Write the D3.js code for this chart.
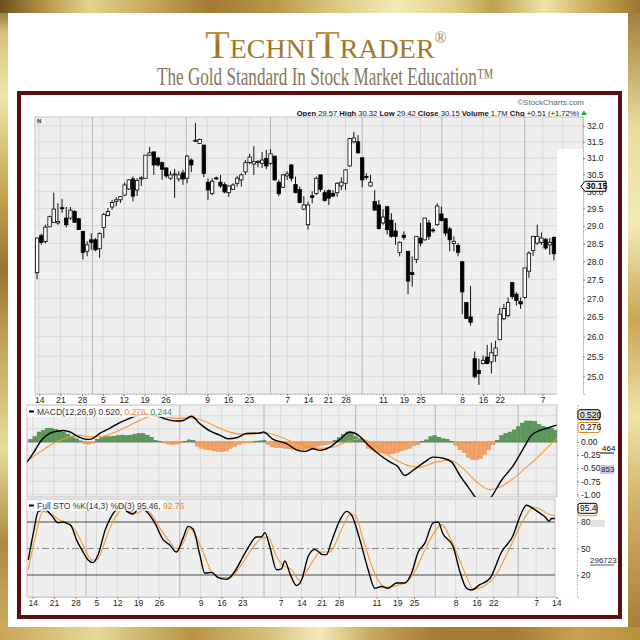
<!DOCTYPE html>
<html>
<head>
<meta charset="utf-8">
<title>TechniTrader chart</title>
<script src="https://cdnjs.cloudflare.com/ajax/libs/d3/7.8.5/d3.min.js"></script>
<style>
  body { margin: 0; background: #fff; }
  svg { display: block; }
</style>
</head>
<body>
<div id="chart"></div>
<script>
// week labels on the date axis (position = bar index) and month boundaries
var tickIdx = [0.5, 5.6, 10.8, 15.8, 20.8, 25.8, 30.8, 40.8, 45.8, 50.8, 60, 65, 69.8, 74, 83, 88, 92, 102, 107, 111, 121.3, 126.1];
var tickLabels = ['14', '21', '28', '5', '12', '19', '26', '9', '16', '23', '7', '14', '21', '28', '11', '19', '25', '8', '16', '22', '7', '14'];
var monthIdx = [13.3, 35.8, 56, 78, 97.1, 117];

// daily candles
var priceOpen = [27.69, 28.72, 28.55, 28.97, 29.09, 29.08, 29.52, 29.22, 29.22, 29.41,
  29.20, 28.84, 28.28, 28.60, 28.60, 28.35, 28.95, 29.29, 29.54, 29.70,
  29.75, 29.89, 30.07, 30.37, 30.04, 30.38, 30.39, 31.09, 31.19, 31.00,
  30.86, 30.70, 30.39, 30.52, 30.37, 30.55, 30.39, 30.94, 31.55, 31.45,
  31.40, 30.27, 29.94, 30.40, 30.27, 30.20, 29.96, 30.06, 30.24, 30.34,
  30.58, 30.86, 30.82, 30.88, 30.84, 30.99, 30.84, 31.06, 30.27, 30.12,
  30.46, 30.79, 30.20, 30.06, 29.48, 29.03, 29.87, 29.94, 30.49, 29.96,
  30.02, 29.94, 29.96, 30.16, 30.24, 30.76, 31.50, 31.50, 31.01, 30.44,
  30.16, 29.70, 29.60, 29.08, 29.55, 29.16, 28.85, 28.25, 28.73, 28.28,
  27.69, 28.05, 28.65, 28.60, 29.08, 28.88, 29.03, 29.34, 29.20, 28.91,
  28.50, 28.44, 27.99, 26.89, 26.51, 25.44, 25.15, 25.32, 25.48, 25.36,
  25.52, 25.92, 26.46, 26.54, 27.42, 27.11, 26.92, 27.02, 27.73, 28.30,
  28.51, 28.53, 28.62, 28.46, 28.67];
var priceHigh = [28.67, 28.78, 29.03, 29.29, 29.96, 29.65, 29.78, 29.54, 29.54, 29.45,
  29.23, 28.84, 28.56, 28.78, 28.65, 28.81, 29.37, 29.51, 29.75, 29.83,
  29.86, 30.26, 30.36, 30.44, 30.39, 30.45, 31.09, 31.34, 31.19, 31.04,
  30.89, 30.72, 30.60, 30.67, 30.60, 30.64, 31.09, 30.99, 32.09, 31.60,
  31.40, 30.39, 30.39, 30.44, 30.49, 30.27, 30.19, 30.24, 30.46, 30.54,
  30.94, 31.13, 31.36, 30.94, 31.19, 31.25, 31.28, 31.06, 30.34, 30.52,
  30.60, 30.82, 30.44, 30.14, 29.86, 29.70, 30.00, 30.44, 30.49, 30.04,
  30.06, 30.04, 30.27, 30.42, 30.66, 31.62, 31.81, 31.71, 31.01, 30.54,
  30.49, 30.04, 29.75, 29.48, 29.55, 29.36, 29.08, 28.56, 28.84, 28.28,
  28.14, 28.70, 29.08, 29.22, 29.17, 28.94, 29.65, 29.55, 29.22, 28.97,
  28.70, 28.51, 27.99, 26.89, 27.33, 25.62, 25.44, 25.52, 25.79, 25.84,
  25.90, 26.75, 26.85, 27.02, 27.42, 27.16, 27.02, 27.82, 28.28, 28.70,
  29.03, 28.81, 28.65, 28.65, 28.70];
var priceLow = [27.51, 28.46, 28.50, 28.96, 29.08, 29.03, 29.37, 28.95, 29.17, 29.08,
  28.89, 28.05, 28.14, 28.32, 28.28, 28.10, 28.65, 29.27, 29.46, 29.56,
  29.66, 29.86, 30.04, 29.70, 29.86, 30.16, 30.39, 31.06, 30.49, 30.74,
  30.34, 30.39, 30.34, 29.81, 30.29, 30.19, 30.24, 30.58, 31.50, 31.44,
  30.42, 29.75, 29.89, 30.34, 30.10, 29.94, 29.84, 30.04, 30.14, 30.14,
  30.49, 30.82, 30.49, 30.72, 30.70, 30.66, 30.79, 30.32, 29.86, 30.10,
  30.34, 30.29, 29.94, 29.65, 29.45, 28.89, 29.65, 29.89, 29.99, 29.70,
  29.60, 29.83, 29.84, 30.04, 30.04, 30.74, 31.45, 31.14, 30.12, 30.34,
  30.14, 29.45, 28.89, 29.03, 28.75, 28.66, 28.46, 28.14, 28.60, 27.11,
  27.31, 27.95, 28.42, 28.58, 28.60, 28.80, 29.00, 29.12, 28.70, 28.28,
  28.28, 28.14, 26.58, 26.46, 26.28, 24.95, 24.79, 25.30, 25.30, 25.07,
  25.36, 25.92, 26.42, 26.50, 26.98, 26.81, 26.72, 26.98, 27.55, 28.15,
  28.46, 28.46, 28.32, 28.18, 28.03];
var priceClose = [28.65, 28.53, 28.96, 29.26, 29.48, 29.12, 29.50, 29.03, 29.45, 29.10,
  28.89, 28.25, 28.46, 28.53, 28.32, 28.78, 29.32, 29.41, 29.67, 29.75,
  29.85, 30.19, 30.34, 29.86, 30.32, 30.40, 31.09, 31.16, 30.79, 30.79,
  30.66, 30.46, 30.49, 30.52, 30.49, 30.37, 31.06, 30.79, 31.52, 31.57,
  30.53, 30.04, 30.30, 30.38, 30.16, 29.98, 30.16, 30.19, 30.39, 30.49,
  30.86, 31.03, 30.89, 30.90, 30.94, 30.76, 31.13, 30.34, 29.93, 30.49,
  30.52, 30.39, 29.96, 29.67, 29.60, 29.60, 29.82, 30.39, 30.06, 29.73,
  29.80, 29.86, 30.24, 30.27, 30.64, 31.60, 31.62, 31.16, 30.34, 30.43,
  30.27, 29.45, 28.92, 29.25, 28.89, 28.70, 28.70, 28.53, 28.67, 27.46,
  27.64, 28.70, 28.51, 29.22, 28.70, 28.86, 29.57, 29.15, 28.79, 28.60,
  28.56, 28.25, 27.17, 26.47, 26.37, 24.99, 25.07, 25.40, 25.32, 25.59,
  25.71, 26.58, 26.73, 26.89, 27.05, 26.94, 26.85, 27.82, 28.23, 28.70,
  28.70, 28.65, 28.37, 28.53, 28.21];
var priceTicks = [32.0, 31.5, 31.0, 30.5, 30.0, 29.5, 29.0, 28.5, 28.0, 27.5, 27.0, 26.5, 26.0, 25.5, 25.0];
var lastPrice = 30.15;
var headerLabels = ['Open', 'High', 'Low', 'Close', 'Volume', 'Chg'];
var headerValues = ['29.57', '30.32', '29.42', '30.15', '1.7M', '+0.51 (+1.72%)'];

// MACD(12,26,9): line, signal (read at sampled bars) and histogram per bar
var macdIdx = [-0.8, 0.6, 2.3, 3.9, 5.4, 7.8, 9.5, 11.4, 13.5, 14.7, 16.7, 19, 21.4, 23.8, 25.8, 27.6, 29.4, 30.6, 32.7, 35,
  36.6, 38.6, 40.6, 43, 45.4, 47.4, 49.4, 51.8, 55, 55.8, 58.2, 61.4, 63.8, 65.8, 67.8, 69.4, 71.8, 74.2, 76.6, 78.6,
  81, 83.8, 86.2, 88, 89.8, 91.8, 94.6, 96.6, 99, 101, 103, 105, 107, 108.6, 110.2, 113, 115.8, 118.2, 120.2, 122.2,
  123.8, 126.2];
var macdVal = [-0.38, -0.22, 0.0, 0.13, 0.19, 0.22, 0.19, 0.10, 0.05, 0.06, 0.17, 0.26, 0.37, 0.45, 0.51, 0.53, 0.51, 0.49, 0.43, 0.40,
  0.41, 0.49, 0.35, 0.21, 0.13, 0.06, 0.08, 0.16, 0.17, 0.19, 0.05, -0.03, -0.15, -0.18, -0.13, -0.16, -0.10, 0.05, 0.19, 0.13,
  -0.06, -0.25, -0.38, -0.46, -0.64, -0.54, -0.38, -0.29, -0.31, -0.38, -0.64, -0.86, -1.08, -1.15, -1.08, -0.73, -0.45, -0.13, 0.13, 0.22,
  0.26, 0.32];
var signalIdx = [-0.6, 2.3, 5.4, 8.7, 11.4, 14.3, 16.7, 19.8, 23.1, 26.2, 29, 31.8, 35, 38.2, 40.6, 43.8, 47, 50.2, 53.4, 56.6,
  59.8, 63, 66.2, 69.4, 72.6, 75.8, 79, 81.4, 84.6, 87.8, 91, 93.4, 97.4, 100.6, 103.8, 107, 110.2, 112.6, 115.8, 119,
  122.2, 124.6, 126.2];
var signalVal = [-0.35, -0.19, -0.03, 0.08, 0.13, 0.10, 0.10, 0.17, 0.29, 0.41, 0.49, 0.48, 0.45, 0.46, 0.43, 0.32, 0.21, 0.15, 0.15, 0.17,
  0.10, 0.0, -0.08, -0.12, -0.10, 0.0, 0.06, 0.0, -0.19, -0.35, -0.46, -0.48, -0.38, -0.35, -0.51, -0.76, -0.91, -0.86, -0.70, -0.48,
  -0.25, -0.06, 0.06];
var histVal = [0.05, 0.10, 0.19, 0.22, 0.26, 0.26, 0.24, 0.22, 0.19, 0.15,
  0.10, 0.06, 0.02, -0.03, -0.04, -0.02, 0.05, 0.08, 0.10, 0.10,
  0.11, 0.12, 0.13, 0.12, 0.13, 0.15, 0.16, 0.16, 0.13, 0.09,
  0.03, 0.01, -0.02, -0.04, -0.05, -0.04, -0.02, 0.01, 0.04, 0.03,
  -0.08, -0.12, -0.14, -0.15, -0.17, -0.18, -0.18, -0.17, -0.12, -0.08,
  -0.05, -0.02, -0.01, -0.01, 0.01, 0.02, 0.03, -0.05, -0.09, -0.11,
  -0.11, -0.12, -0.13, -0.14, -0.15, -0.15, -0.14, -0.12, -0.10, -0.08,
  -0.06, -0.05, -0.03, 0.03, 0.08, 0.14, 0.19, 0.17, 0.10, 0.07,
  0.02, -0.12, -0.15, -0.19, -0.21, -0.22, -0.23, -0.22, -0.20, -0.17,
  -0.14, -0.12, -0.07, -0.05, 0.01, 0.04, 0.10, 0.12, 0.09, 0.06,
  0.05, 0.01, -0.07, -0.15, -0.20, -0.29, -0.33, -0.34, -0.31, -0.24,
  -0.15, -0.05, 0.03, 0.12, 0.16, 0.19, 0.23, 0.29, 0.36, 0.40,
  0.40, 0.39, 0.33, 0.30, 0.28, 0.26, 0.22];
var macdTicks = [0.00, -0.25, -0.50, -0.75, -1.00];
var macdLegend = [0.520, 0.276, 0.244];

// Full stochastics %K(14,3) %D(3)
var stoKIdx = [-0.55, 0.65, 1.85, 3.45, 5.1, 6.65, 7.85, 9, 9.8, 11, 12.6, 13.8, 15, 16.2, 17.9, 19, 20.7, 21.9, 23.1, 24.6,
  25.8, 27, 28.2, 29.8, 31.8, 33.4, 35, 36.6, 37.8, 39, 40.6, 41.8, 43.4, 45, 47, 49, 51, 52.6, 54.2, 55.4,
  56.2, 57.4, 59, 60.2, 61, 62.2, 63.8, 65, 66.6, 68.2, 70.1, 71, 72.2, 74.2, 75.8, 77, 79, 81, 82.6, 84.2,
  85.8, 87.8, 89.8, 91.4, 93, 94.6, 96.6, 97.8, 98.9, 101.4, 103, 104.6, 105.8, 107.8, 110.2, 113, 115.8, 117.4, 119, 120.6,
  122.2, 123.4, 124.4, 125, 125.8];
var stoKVal = [37, 67, 92, 94, 87, 79, 80, 78, 75, 60, 46, 37, 34, 43, 71, 83, 95, 99, 92, 89,
  94, 94, 90, 79, 60, 54, 46, 62, 75, 72, 43, 22, 23, 17, 15, 24, 41, 54, 63, 63,
  68, 52, 26, 27, 36, 22, 8, 14, 41, 49, 43, 43, 58, 82, 92, 88, 60, 26, 5, 7,
  5, 11, 11, 22, 46, 56, 79, 80, 67, 52, 24, 5, 3, 9, 16, 46, 65, 86, 99, 95,
  90, 86, 81, 84, 84];
var stoDIdx = [-0.55, 1, 3, 4.6, 7, 9, 10.6, 12.6, 14.7, 15.9, 17.4, 19, 20.7, 22.2, 23.8, 25.5, 27.4, 29.1, 31, 33,
  35, 36.6, 38.2, 39.8, 41.8, 43.4, 45.4, 47.8, 50.2, 52.6, 55, 57, 59, 60.6, 62.6, 64.6, 66.2, 68.2, 69.4, 71.8,
  74.2, 76.6, 77.8, 79.8, 81.8, 83.4, 85.4, 87.8, 90.2, 92.2, 94.6, 97, 98.6, 100.6, 102.6, 104.6, 106.2, 108.6, 111.4, 114.2,
  116.6, 119, 120.6, 122.2, 124.2, 125.8];
var stoDVal = [26, 60, 92, 90, 82, 79, 71, 54, 37, 37, 52, 73, 88, 95, 92, 90, 94, 88, 73, 60,
  50, 56, 73, 63, 41, 24, 17, 17, 29, 46, 60, 63, 41, 31, 26, 14, 24, 39, 46, 46,
  67, 88, 88, 60, 31, 14, 6, 8, 12, 24, 48, 69, 77, 63, 41, 18, 4, 7, 18, 43,
  67, 88, 97, 95, 89, 87];
var stoTicks = [80, 50, 20];
var stoLegend = [95.46, 92.76];

var techChart = {};

techChart.create = function(el, props) {
  var svg = d3.select(el).append('svg')
              .attr('width', props.width)
              .attr('height', props.height)
              .attr('font-family', '"Liberation Sans", Arial, sans-serif');
  this.props = props;
  this._defs(svg);
  this._drawBorder(svg);
  this._drawTitle(svg);
  this._drawHeader(svg);
  this._drawPrice(svg);
  this._drawMacd(svg);
  this._drawSto(svg);
};

techChart._scales = function() {
  var p = this.props;
  return {
    xTop: d3.scaleLinear().domain([-0.5, priceClose.length - 0.5]).range([p.price.left, p.price.candleRight]),
    xLow: d3.scaleLinear().domain([-0.5, 126.5]).range([p.low.left, p.low.right]),
    price: d3.scaleLog().domain([24.57, 32.28]).range([p.price.bottom, p.price.top]),
    macd: d3.scaleLinear().domain([-1.05, 0.705]).range([p.macd.bottom, p.macd.top]),
    sto: d3.scaleLinear().domain([-4.9, 106]).range([p.sto.bottom, p.sto.top])
  };
};

techChart._defs = function(svg) {
  var defs = svg.append('defs');
  var grad = function(id, x2, y2, stops) {
    var g = defs.append('linearGradient').attr('id', id)
                .attr('x1', 0).attr('y1', 0).attr('x2', x2).attr('y2', y2);
    stops.forEach(function(s) { g.append('stop').attr('offset', s[0]).attr('stop-color', s[1]); });
  };
  grad('goldTop', 1, 0, [[0, '#6e4f1c'], [0.07, '#b8944a'], [0.14, '#e4d38e'], [0.24, '#c6a45a'], [0.33, '#a27a36'],
    [0.43, '#bb974b'], [0.52, '#dcc67e'], [0.62, '#f2ebb8'], [0.71, '#e0cc88'], [0.77, '#bf9f50'], [0.85, '#efe3a8'],
    [0.93, '#c9a656'], [1, '#9c7630']]);
  grad('goldBottom', 1, 0, [[0, '#c9a656'], [0.15, '#e6d896'], [0.3, '#b89446'], [0.42, '#d8c07a'], [0.5, '#f2ebb8'],
    [0.58, '#c8a85c'], [0.68, '#a57c38'], [0.8, '#a47a36'], [0.9, '#c9a152'], [1, '#b8913e']]);
  grad('goldLeft', 0, 1, [[0, '#6e4f1c'], [0.05, '#d8c27a'], [0.15, '#f0e6a8'], [0.3, '#c8a650'], [0.42, '#9a7430'],
    [0.55, '#c8a85a'], [0.7, '#e8dc98'], [0.85, '#b08a40'], [1, '#d0b060']]);
  grad('goldRight', 0, 1, [[0, '#9c7630'], [0.2, '#e8dca0'], [0.35, '#f2ebb8'], [0.5, '#c9a656'], [0.65, '#eee4a8'],
    [0.8, '#cfae62'], [1, '#a47a36']]);
  grad('titleGold', 0, 1, [[0, '#d0ab58'], [0.55, '#9c7022'], [1, '#b88c38']]);

  var p = this.props;
  defs.append('clipPath').attr('id', 'clipMacd').append('rect')
      .attr('x', p.macd.left).attr('y', p.macd.top)
      .attr('width', p.macd.right - p.macd.left).attr('height', p.macd.bottom - p.macd.top);
  defs.append('clipPath').attr('id', 'clipSto').append('rect')
      .attr('x', p.sto.left).attr('y', p.sto.top)
      .attr('width', p.sto.right - p.sto.left).attr('height', p.sto.bottom - p.sto.top);
};

techChart._drawBorder = function(svg) {
  var w = this.props.width, h = this.props.height;
  svg.append('rect').attr('x', 0).attr('y', 0).attr('width', 8).attr('height', h).attr('fill', 'url(#goldLeft)');
  svg.append('rect').attr('x', w - 12).attr('y', 0).attr('width', 12).attr('height', h).attr('fill', 'url(#goldRight)');
  svg.append('rect').attr('x', 0).attr('y', 0).attr('width', w).attr('height', 13).attr('fill', 'url(#goldTop)');
  svg.append('rect').attr('x', 0).attr('y', h - 13).attr('width', w).attr('height', 13).attr('fill', 'url(#goldBottom)');

  // dark red frame round the chart
  svg.append('rect')
     .attr('x', 19).attr('y', 93).attr('width', 601).attr('height', 524)
     .attr('fill', '#fff').attr('stroke', '#5e0e0e').attr('stroke-width', 4);
};

techChart._drawTitle = function(svg) {
  var t = svg.append('text')
             .attr('x', 326).attr('y', 58)
             .attr('text-anchor', 'middle')
             .attr('font-family', '"Liberation Serif", "Times New Roman", serif')
             .attr('fill', 'url(#titleGold)');
  t.append('tspan').attr('font-size', 40).text('T');
  t.append('tspan').attr('font-size', 28).text('ECHNI');
  t.append('tspan').attr('font-size', 40).text('T');
  t.append('tspan').attr('font-size', 28).text('RADER');
  t.append('tspan').attr('font-size', 16).attr('dy', -15).text('®');

  // narrow serif subtitle: the face is squeezed horizontally
  var sx = 0.7;
  svg.append('text')
     .attr('transform', 'translate(157,85) scale(' + sx + ',1)')
     .attr('font-family', '"Liberation Serif", "Times New Roman", serif')
     .attr('font-size', 24.5)
     .attr('fill', '#86755a')
     .text('The Gold Standard In Stock Market Education™');
};

techChart._drawHeader = function(svg) {
  svg.append('text')
     .attr('x', 584).attr('y', 105)
     .attr('text-anchor', 'end')
     .attr('font-size', 8)
     .attr('fill', '#666')
     .text('©StockCharts.com');

  var hdr = svg.append('text')
               .attr('x', 579).attr('y', 116)
               .attr('text-anchor', 'end')
               .attr('font-size', 7.6)
               .attr('fill', '#111');
  headerLabels.forEach(function(lbl, i) {
    hdr.append('tspan').attr('font-weight', 'bold').text((i ? ' ' : '') + lbl + ' ');
    hdr.append('tspan').text(headerValues[i]);
  });
  svg.append('path').attr('d', 'M581,115 L584,110.5 L587,115 Z').attr('fill', '#22aa22');
};

techChart._grid = function(g, x, left, right, top, bottom) {
  g.selectAll('line.vgrid').data(tickIdx.filter(function(d) { return x(d) > left && x(d) < right; }))
   .enter().append('line')
   .attr('class', 'vgrid')
   .attr('x1', function(d) { return x(d); }).attr('x2', function(d) { return x(d); })
   .attr('y1', top).attr('y2', bottom)
   .attr('stroke', '#d9d9d9').attr('stroke-width', 1);
  g.selectAll('line.mgrid').data(monthIdx)
   .enter().append('line')
   .attr('class', 'mgrid')
   .attr('x1', function(d) { return x(d); }).attr('x2', function(d) { return x(d); })
   .attr('y1', top).attr('y2', bottom)
   .attr('stroke', '#b5b5b5').attr('stroke-width', 1);
};

techChart._xAxis = function(svg, x, y, maxIdx) {
  var vals = tickIdx.filter(function(d) { return d <= maxIdx; });
  var axis = d3.axisBottom(x).tickValues(vals)
               .tickFormat(function(d) { return tickLabels[tickIdx.indexOf(d)]; })
               .tickSize(2).tickPadding(1);
  var g = svg.append('g').attr('transform', 'translate(0,' + y + ')').call(axis);
  g.select('.domain').attr('stroke', '#aaa').attr('stroke-dasharray', '1,2');
  g.selectAll('.tick line').attr('stroke', '#888');
  g.selectAll('.tick text').attr('font-size', 8.5).attr('fill', '#222')
   .attr('font-family', '"Liberation Sans", Arial, sans-serif');
};

techChart._yAxis = function(svg, scale, x, ticks, fmt) {
  var axis = d3.axisRight(scale).tickValues(ticks).tickFormat(fmt).tickSize(2).tickPadding(2);
  var g = svg.append('g').attr('transform', 'translate(' + x + ',0)').call(axis);
  g.select('.domain').attr('stroke', '#aaa').attr('stroke-dasharray', '1,1');
  g.selectAll('.tick line').attr('stroke', '#888');
  g.selectAll('.tick text').attr('font-size', 8.5).attr('fill', '#222')
   .attr('font-family', '"Liberation Sans", Arial, sans-serif');
  return g;
};

techChart._drawPrice = function(svg) {
  var p = this.props.price;
  var s = this._scales();
  var x = s.xTop, y = s.price;
  var g = svg.append('g').attr('class', 'priceWrapper');

  g.append('rect').attr('x', p.left).attr('y', p.top)
   .attr('width', p.right - p.left).attr('height', p.bottom - p.top)
   .attr('fill', '#efefef').attr('stroke', '#c4c4c4');

  g.selectAll('line.hgrid').data(priceTicks).enter().append('line')
   .attr('class', 'hgrid')
   .attr('x1', p.left).attr('x2', p.right)
   .attr('y1', function(d) { return y(d); }).attr('y2', function(d) { return y(d); })
   .attr('stroke', '#d9d9d9');
  this._grid(g, x, p.left, p.right, p.top, p.bottom);

  // blank strip at the right edge of the price pane
  g.append('rect').attr('x', 557).attr('y', 149).attr('width', p.right - 557).attr('height', p.bottom - 149 + 1)
   .attr('fill', '#fff');

  g.append('text').attr('x', 37).attr('y', 123).attr('font-size', 6).attr('font-weight', 'bold')
   .attr('fill', '#333').text('N');

  var bars = d3.range(priceClose.length);
  g.selectAll('line.wick').data(bars).enter().append('line')
   .attr('class', 'wick')
   .attr('x1', function(i) { return x(i); }).attr('x2', function(i) { return x(i); })
   .attr('y1', function(i) { return y(priceHigh[i]); })
   .attr('y2', function(i) { return y(priceLow[i]); })
   .attr('stroke', '#111').attr('stroke-width', 1);
  g.selectAll('rect.body').data(bars).enter().append('rect')
   .attr('class', 'body')
   .attr('x', function(i) { return x(i) - 1.7; })
   .attr('width', 3.4)
   .attr('y', function(i) { return y(Math.max(priceOpen[i], priceClose[i])); })
   .attr('height', function(i) { return Math.max(1, Math.abs(y(priceOpen[i]) - y(priceClose[i]))); })
   .attr('fill', function(i) { return priceClose[i] >= priceOpen[i] ? '#fff' : '#000'; })
   .attr('stroke', '#000').attr('stroke-width', 0.8);

  this._xAxis(svg, x, p.bottom, 124.5);
  this._yAxis(svg, y, p.right, priceTicks, d3.format('.1f'));

  // last price marker, drawn over the axis like the original
  var ly = y(lastPrice);
  svg.append('path')
     .attr('d', 'M581,' + ly + ' L585,' + (ly - 5) + ' L606,' + (ly - 5) + ' L606,' + (ly + 5) + ' L585,' + (ly + 5) + ' Z')
     .attr('fill', '#fff').attr('stroke', '#000').attr('stroke-width', 1);
  svg.append('text').attr('x', 586).attr('y', ly + 3).attr('font-size', 8.5).attr('font-weight', 'bold')
     .attr('fill', '#000').text(d3.format('.2f')(lastPrice));
};

techChart._legend = function(svg, x, y, width, parts) {
  svg.append('rect').attr('x', x).attr('y', y).attr('width', width).attr('height', 11)
     .attr('fill', '#fff').attr('opacity', 0.8);
  svg.append('line').attr('x1', x + 2).attr('x2', x + 7).attr('y1', y + 5.5).attr('y2', y + 5.5)
     .attr('stroke', '#000').attr('stroke-width', 2);
  var t = svg.append('text').attr('x', x + 10).attr('y', y + 8.5).attr('font-size', 8.5)
             .style('white-space', 'pre');
  parts.forEach(function(d) { t.append('tspan').attr('fill', d[1]).text(d[0]); });
};

techChart._drawMacd = function(svg) {
  var p = this.props.macd;
  var s = this._scales();
  var x = s.xLow, y = s.macd;
  var g = svg.append('g').attr('class', 'macdWrapper');

  g.append('rect').attr('x', p.left).attr('y', p.top)
   .attr('width', p.right - p.left).attr('height', p.bottom - p.top)
   .attr('fill', '#efefef').attr('stroke', '#c4c4c4');
  g.selectAll('line.hgrid').data([0.5, 0.25, -0.25, -0.5, -0.75, -1.0]).enter().append('line')
   .attr('class', 'hgrid')
   .attr('x1', p.left).attr('x2', p.right)
   .attr('y1', function(d) { return y(d); }).attr('y2', function(d) { return y(d); })
   .attr('stroke', '#d9d9d9');
  this._grid(g, x, p.left, p.right, p.top, p.bottom);

  var inner = g.append('g').attr('clip-path', 'url(#clipMacd)');
  inner.append('line').attr('x1', p.left).attr('x2', p.right).attr('y1', y(0)).attr('y2', y(0))
       .attr('stroke', '#9a9a9a');
  inner.selectAll('rect.hist').data(histVal).enter().append('rect')
       .attr('class', 'hist')
       .attr('x', function(d, i) { return x(i) - 1.8; })
       .attr('width', 3.6)
       .attr('y', function(d) { return Math.min(y(d), y(0)); })
       .attr('height', function(d) { return Math.abs(y(d) - y(0)); })
       .attr('fill', function(d) { return d >= 0 ? '#5c9a5c' : '#f4a468'; })
       .attr('stroke', function(d) { return d >= 0 ? '#3f7a3f' : '#e48440'; })
       .attr('stroke-width', 0.5);

  var line = d3.line().x(function(d) { return x(d[0]); }).y(function(d) { return y(d[1]); })
               .curve(d3.curveMonotoneX);
  inner.append('path').attr('d', line(signalIdx.map(function(d, i) { return [d, signalVal[i]]; })))
       .attr('fill', 'none').attr('stroke', '#f39a2e').attr('stroke-width', 1.1);
  inner.append('path').attr('d', line(macdIdx.map(function(d, i) { return [d, macdVal[i]]; })))
       .attr('fill', 'none').attr('stroke', '#000').attr('stroke-width', 1.4);

  var f3 = d3.format('.3f');
  this._legend(svg, p.left, p.top + 1, 143, [
    ['MACD(12,26,9) ' + f3(macdLegend[0]) + ', ', '#333'],
    [f3(macdLegend[1]) + ', ', '#f08a1e'],
    [f3(macdLegend[2]), '#3f8f3f']
  ]);

  this._yAxis(svg, y, p.axis, macdTicks, function(d) { return d.toFixed(2); });

  // last value tags
  var tags = [[macdLegend[1], '#fff', '#f08a1e'], [macdLegend[0], '#ddd', '#000']];
  tags.forEach(function(t) {
    svg.append('rect').attr('x', p.axis + 1).attr('y', y(t[0]) - 5).attr('width', 22).attr('height', 10)
       .attr('rx', 2).attr('fill', t[1]).attr('stroke', t[2]);
    svg.append('text').attr('x', p.axis + 3).attr('y', y(t[0]) + 3).attr('font-size', 8.5)
       .attr('fill', '#000').text(f3(t[0]));
  });

  // clipped fragments of the volume scale showing at the right
  svg.append('text').attr('x', 602).attr('y', 451).attr('font-size', 8).attr('fill', '#000').text('464');
  svg.append('line').attr('x1', 600).attr('x2', 614).attr('y1', 453).attr('y2', 453).attr('stroke', '#000');
  svg.append('rect').attr('x', 600).attr('y', 465).attr('width', 14).attr('height', 9).attr('fill', '#c8c8e8');
  svg.append('text').attr('x', 601).attr('y', 472).attr('font-size', 8).attr('fill', '#223').text('853');
};

techChart._drawSto = function(svg) {
  var p = this.props.sto;
  var s = this._scales();
  var x = s.xLow, y = s.sto;
  var g = svg.append('g').attr('class', 'stoWrapper');

  g.append('rect').attr('x', p.left).attr('y', p.top)
   .attr('width', p.right - p.left).attr('height', p.bottom - p.top)
   .attr('fill', '#efefef').attr('stroke', '#c4c4c4');
  this._grid(g, x, p.left, p.right, p.top, p.bottom);

  g.selectAll('line.level').data(stoTicks).enter().append('line')
   .attr('class', 'level')
   .attr('x1', p.left).attr('x2', p.right)
   .attr('y1', function(d) { return y(d); }).attr('y2', function(d) { return y(d); })
   .attr('stroke', function(d) { return d === 50 ? '#8a8a8a' : '#4a4a4a'; })
   .attr('stroke-width', function(d) { return d === 50 ? 1 : 1.2; })
   .attr('stroke-dasharray', function(d) { return d === 50 ? '7,3,2,3' : null; });

  var inner = g.append('g').attr('clip-path', 'url(#clipSto)');
  var line = d3.line().x(function(d) { return x(d[0]); }).y(function(d) { return y(d[1]); })
               .curve(d3.curveMonotoneX);
  inner.append('path').attr('d', line(stoDIdx.map(function(d, i) { return [d, stoDVal[i]]; })))
       .attr('fill', 'none').attr('stroke', '#f39a2e').attr('stroke-width', 1.1);
  inner.append('path').attr('d', line(stoKIdx.map(function(d, i) { return [d, stoKVal[i]]; })))
       .attr('fill', 'none').attr('stroke', '#000').attr('stroke-width', 1.4);

  var f2 = d3.format('.2f');
  this._legend(svg, p.left, p.top + 1, 138, [
    ['Full STO %K(14,3) %D(3) ' + f2(stoLegend[0]) + ', ', '#333'],
    [f2(stoLegend[1]), '#f08a1e']
  ]);

  this._xAxis(svg, x, p.bottom, 126.5);
  this._yAxis(svg, y, p.axis, stoTicks, d3.format('d'));

  // %D tag sits under the %K tag; only its orange edge shows
  svg.append('rect').attr('x', p.axis + 1).attr('y', y(stoLegend[1]) - 5).attr('width', 19).attr('height', 10)
     .attr('rx', 2).attr('fill', '#fff').attr('stroke', '#f08a1e');
  svg.append('rect').attr('x', p.axis + 1).attr('y', y(stoLegend[0]) - 5).attr('width', 19).attr('height', 10)
     .attr('rx', 2).attr('fill', '#fff').attr('stroke', '#000');
  svg.append('text').attr('x', p.axis + 3).attr('y', y(stoLegend[0]) + 3).attr('font-size', 8.5)
     .attr('fill', '#000').text(f2(stoLegend[0]).slice(0, 4));

  svg.append('rect').attr('x', 591).attr('y', 520).attr('width', 14).attr('height', 7).attr('fill', '#e4e4e4');
  svg.append('text').attr('x', 590).attr('y', 563).attr('font-size', 8).attr('fill', '#223').text('296723');
  svg.append('line').attr('x1', 590).attr('x2', 614).attr('y1', 565).attr('y2', 565).attr('stroke', '#5555aa');
};

techChart.create(document.getElementById('chart'), {
  width: 640,
  height: 640,
  price: { left: 35, right: 583, top: 117, bottom: 394, candleRight: 556 },
  low: { left: 28.5, right: 557.8 },
  macd: { left: 27, right: 557, top: 405, bottom: 497, axis: 577 },
  sto: { left: 27, right: 555, top: 499, bottom: 597, axis: 577 }
});
</script>
</body>
</html>
